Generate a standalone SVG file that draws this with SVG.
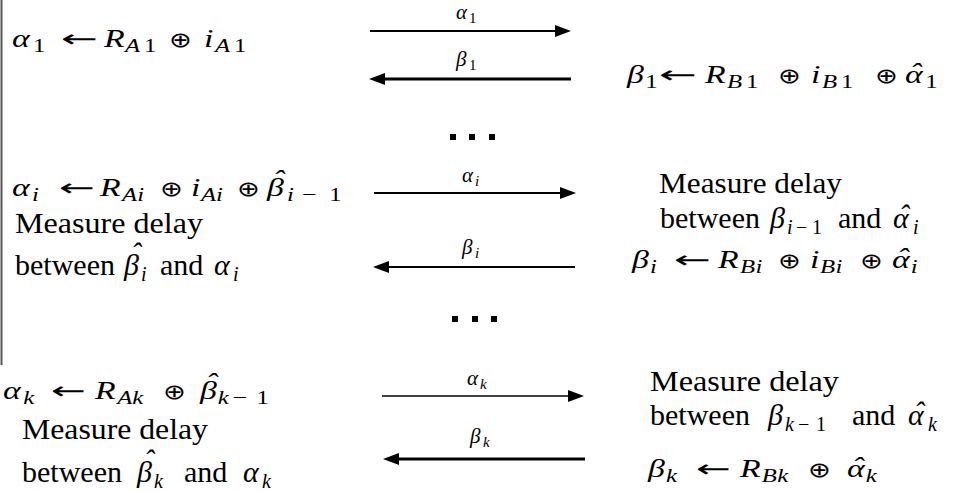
<svg xmlns="http://www.w3.org/2000/svg" width="955" height="491" viewBox="0 0 955 491">
<style>
text { font-family: "Liberation Serif", "DejaVu Serif", serif; fill: #000; }
.m { font-size: 26px; }
.t { font-size: 30px; }
.lb { font-size: 21px; }
.i { font-style: italic; }
.s { font-size: 19px; }
.s2 { font-size: 20px; }
.ls { font-size: 15px; }
.op { font-family: "DejaVu Sans", sans-serif; font-size: 21px; font-style: normal; }
.mn { font-size: 20px; font-style: normal; }
.ar { font-family: "DejaVu Sans", sans-serif; font-size: 24px; }
.ln { stroke: #000; fill: none; }
.dot { fill: #000; }
</style>
<defs>
<marker id="ah" markerUnits="userSpaceOnUse" markerWidth="16" markerHeight="12" viewBox="0 0 16 12" refX="5" refY="6" orient="auto">
<path d="M0,0 L16,6 L0,12 Z" fill="#000"/>
</marker>
</defs>
<rect width="955" height="491" fill="#fff"/>
<line x1="1.5" y1="0" x2="1.5" y2="365" stroke="#555" stroke-width="2"/>

<g id="connectors">
<line class="ln" x1="370" y1="31" x2="560" y2="31" stroke-width="1.8" marker-end="url(#ah)"/>
<line class="ln" x1="571" y1="79" x2="380" y2="79" stroke-width="2.8" marker-end="url(#ah)"/>
<line class="ln" x1="374" y1="193" x2="565" y2="193" stroke-width="2" marker-end="url(#ah)"/>
<line class="ln" x1="575" y1="267" x2="384" y2="267" stroke-width="2.2" marker-end="url(#ah)"/>
<line class="ln" x1="382" y1="396" x2="573" y2="396" stroke-width="1.6" marker-end="url(#ah)"/>
<line class="ln" x1="585" y1="459" x2="394" y2="459" stroke-width="3" marker-end="url(#ah)"/>
<text class="lb"><tspan class="i" x="456" y="19">α</tspan><tspan class="ls" x="469" y="23">1</tspan></text>
<text class="lb"><tspan class="i" x="456" y="66">β</tspan><tspan class="ls" x="469" y="70">1</tspan></text>
<text class="lb"><tspan class="i" x="462" y="182">α</tspan><tspan class="ls i" x="475" y="186">i</tspan></text>
<text class="lb"><tspan class="i" x="462" y="254">β</tspan><tspan class="ls i" x="475" y="258">i</tspan></text>
<text class="lb"><tspan class="i" x="467" y="385">α</tspan><tspan class="ls i" x="480" y="389">k</tspan></text>
<text class="lb"><tspan class="i" x="470" y="443">β</tspan><tspan class="ls i" x="483" y="447">k</tspan></text>
</g>

<g id="dots1">
<rect class="dot" x="450" y="134" width="6" height="6"/>
<rect class="dot" x="469" y="134" width="6" height="6"/>
<rect class="dot" x="489" y="134" width="6" height="6"/>
</g>
<g id="dots2">
<rect class="dot" x="452" y="316" width="6" height="6"/>
<rect class="dot" x="472" y="316" width="6" height="6"/>
<rect class="dot" x="491" y="316" width="6" height="6"/>
</g>

<g id="alice1">
<text class="m" transform="translate(12,0) scale(1.3,1) translate(-12,0)"><tspan class="i" x="12" y="47">α</tspan><tspan class="s" x="28.2" y="52">1</tspan><tspan class="i" x="82.8" y="47">R</tspan><tspan class="s i" x="98.9" y="52">A</tspan><tspan class="s" x="113.5" y="52">1</tspan><tspan class="op" x="132.8" y="47">⊕</tspan><tspan class="i" x="159.7" y="47">i</tspan><tspan class="s i" x="168.2" y="52">A</tspan><tspan class="s" x="182.8" y="52">1</tspan></text>
<text class="ar" x="61" y="47" textLength="37" lengthAdjust="spacingAndGlyphs">←</text>
</g>
<g id="bob1">
<text class="m" transform="translate(627,0) scale(1.3,1) translate(-627,0)"><tspan class="i" x="627" y="83">β</tspan><tspan class="s" x="641" y="88">1</tspan><tspan class="i" x="687" y="83">R</tspan><tspan class="s i" x="703.9" y="88">B</tspan><tspan class="s" x="718.5" y="88">1</tspan><tspan class="op" x="743.2" y="83">⊕</tspan><tspan class="i" x="768.5" y="83">i</tspan><tspan class="s i" x="777" y="88">B</tspan><tspan class="s" x="791.6" y="88">1</tspan><tspan class="op" x="817.8" y="83">⊕</tspan><tspan class="i" x="840.8 844.5" y="83 81">αˆ</tspan><tspan class="s" x="856.5" y="88">1</tspan></text>
<text class="ar" x="659" y="83" textLength="38" lengthAdjust="spacingAndGlyphs">←</text>
</g>

<g id="alice_i">
<text class="m" transform="translate(12,0) scale(1.3,1) translate(-12,0)"><tspan class="i" x="12" y="196">α</tspan><tspan class="s i" x="27.4" y="201">i</tspan><tspan class="i" x="79.7" y="196">R</tspan><tspan class="s i" x="96.6" y="201">A</tspan><tspan class="s i" x="108.3" y="201">i</tspan><tspan class="op" x="125.8" y="196">⊕</tspan><tspan class="i" x="149.7" y="196">i</tspan><tspan class="s i" x="157.4" y="201">A</tspan><tspan class="s i" x="169" y="201">i</tspan><tspan class="op" x="185.1" y="196">⊕</tspan><tspan class="i" x="208.2 212.5" y="196 188">βˆ</tspan><tspan class="s i" x="223.5" y="201">i</tspan><tspan class="mn" x="235" y="201">−</tspan><tspan class="s" x="256" y="201">1</tspan></text>
<text class="ar" x="59" y="196" textLength="36" lengthAdjust="spacingAndGlyphs">←</text>
<text class="t" x="15" y="233" textLength="188" lengthAdjust="spacingAndGlyphs">Measure delay</text>
<text class="t"><tspan x="15" y="275">between</tspan><tspan class="i" x="124 131" y="275 263">βˆ</tspan><tspan class="s2 i" x="141" y="281">i</tspan><tspan x="160" y="275">and</tspan><tspan class="i" x="214" y="275">α</tspan><tspan class="s2 i" x="233" y="281">i</tspan></text>
</g>
<g id="bob_i">
<text class="t" x="659" y="193" textLength="183" lengthAdjust="spacingAndGlyphs">Measure delay</text>
<text class="t"><tspan x="660" y="228">between</tspan><tspan class="i" x="770" y="228">β</tspan><tspan class="s2 i" x="787" y="234">i</tspan><tspan class="mn" x="796" y="234">−</tspan><tspan class="s2" x="812" y="234">1</tspan><tspan x="838" y="228">and</tspan><tspan class="i" x="893 899" y="228 225">αˆ</tspan><tspan class="s2 i" x="913" y="234">i</tspan></text>
<text class="m" transform="translate(632,0) scale(1.3,1) translate(-632,0)"><tspan class="i" x="632" y="268">β</tspan><tspan class="s i" x="645.8" y="273">i</tspan><tspan class="i" x="698.2" y="268">R</tspan><tspan class="s i" x="715.1" y="273">B</tspan><tspan class="s i" x="727" y="273">i</tspan><tspan class="op" x="744.3" y="268">⊕</tspan><tspan class="i" x="768.9" y="268">i</tspan><tspan class="s i" x="776.6" y="273">B</tspan><tspan class="s i" x="788.5" y="273">i</tspan><tspan class="op" x="807.4" y="268">⊕</tspan><tspan class="i" x="832 835.8" y="268 266">αˆ</tspan><tspan class="s i" x="846.5" y="273">i</tspan></text>
<text class="ar" x="674" y="268" textLength="37" lengthAdjust="spacingAndGlyphs">←</text>
</g>

<g id="alice_k">
<text class="m" transform="translate(3,0) scale(1.3,1) translate(-3,0)"><tspan class="i" x="3" y="399">α</tspan><tspan class="s i" x="18.5" y="404">k</tspan><tspan class="i" x="73.8" y="399">R</tspan><tspan class="s i" x="90.8" y="404">A</tspan><tspan class="s i" x="102.5" y="404">k</tspan><tspan class="op" x="126.1" y="399">⊕</tspan><tspan class="i" x="154.5 159" y="399 391">βˆ</tspan><tspan class="s i" x="168.2" y="404">k</tspan><tspan class="mn" x="179.5" y="404">−</tspan><tspan class="s" x="198" y="404">1</tspan></text>
<text class="ar" x="51" y="399" textLength="35" lengthAdjust="spacingAndGlyphs">←</text>
<text class="t" x="22" y="439" textLength="186" lengthAdjust="spacingAndGlyphs">Measure delay</text>
<text class="t"><tspan x="22" y="482">between</tspan><tspan class="i" x="137 144" y="482 470">βˆ</tspan><tspan class="s2 i" x="154" y="488">k</tspan><tspan x="184" y="482">and</tspan><tspan class="i" x="243" y="482">α</tspan><tspan class="s2 i" x="262" y="488">k</tspan></text>
</g>
<g id="bob_k">
<text class="t" x="650" y="391" textLength="189" lengthAdjust="spacingAndGlyphs">Measure delay</text>
<text class="t"><tspan x="650" y="425">between</tspan><tspan class="i" x="768" y="425">β</tspan><tspan class="s2 i" x="785" y="431">k</tspan><tspan class="mn" x="798" y="431">−</tspan><tspan class="s2" x="816" y="431">1</tspan><tspan x="852" y="425">and</tspan><tspan class="i" x="908 914" y="425 422">αˆ</tspan><tspan class="s2 i" x="928" y="431">k</tspan></text>
<text class="m" transform="translate(648,0) scale(1.3,1) translate(-648,0)"><tspan class="i" x="648" y="477">β</tspan><tspan class="s i" x="661.8" y="482">k</tspan><tspan class="i" x="718.8" y="477">R</tspan><tspan class="s i" x="735.5" y="482">B</tspan><tspan class="s i" x="747.5" y="482">k</tspan><tspan class="op" x="771.1" y="477">⊕</tspan><tspan class="i" x="801.1 805" y="477 475">αˆ</tspan><tspan class="s i" x="815.5" y="482">k</tspan></text>
<text class="ar" x="696" y="477" textLength="35" lengthAdjust="spacingAndGlyphs">←</text>
</g>
</svg>
